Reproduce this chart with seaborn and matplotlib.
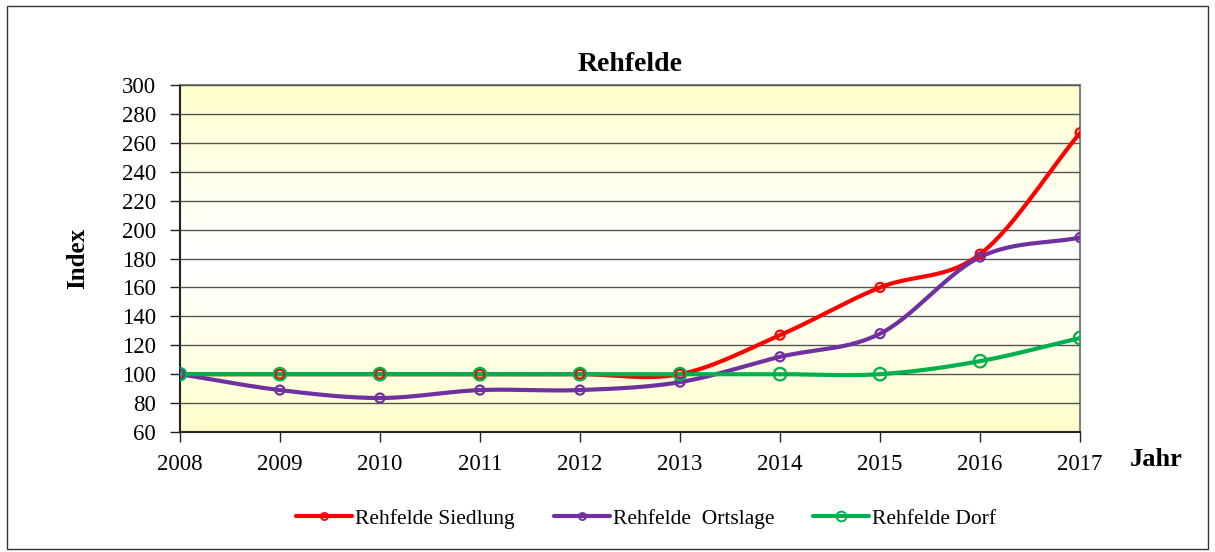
import numpy as np
import pandas as pd
import matplotlib
matplotlib.use("Agg")
import matplotlib.pyplot as plt
import seaborn as sns
from matplotlib.lines import Line2D
from matplotlib.patches import Rectangle

years = [2008, 2009, 2010, 2011, 2012, 2013, 2014, 2015, 2016, 2017]
siedlung = [100, 100, 100, 100, 100, 100, 127, 160, 183, 267]
ortslage = [100, 89, 83.5, 89, 89, 94.5, 112, 128, 181, 194.5]
dorf = [100, 100, 100, 100, 100, 100, 100, 100, 109, 125]
series_names = ["Rehfelde Siedlung", "Rehfelde  Ortslage", "Rehfelde Dorf"]
colors = ["#FF0000", "#7030A0", "#00B050"]
y_ticks = list(range(60, 301, 20))

sns.set_theme(style="white")
plt.rcParams['font.family'] = ['Liberation Serif', 'DejaVu Serif']
plt.rcParams['text.color'] = 'black'
plt.rcParams['axes.labelcolor'] = 'black'


def smooth(x, y, n=30):
    # Catmull-Rom style smoothing for display (like Excel "smoothed line")
    x = np.asarray(x, float); y = np.asarray(y, float)
    px = np.concatenate([[2 * x[0] - x[1]], x, [2 * x[-1] - x[-2]]])
    py = np.concatenate([[2 * y[0] - y[1]], y, [2 * y[-1] - y[-2]]])
    xs, ys = [], []
    for i in range(1, len(px) - 2):
        t = np.linspace(0, 1, n, endpoint=(i == len(px) - 3))
        p0, p1, p2, p3 = py[i - 1], py[i], py[i + 1], py[i + 2]
        q0, q1, q2, q3 = px[i - 1], px[i], px[i + 1], px[i + 2]
        f = lambda a0, a1, a2, a3: 0.5 * ((2 * a1) + (-a0 + a2) * t +
                                          (2 * a0 - 5 * a1 + 4 * a2 - a3) * t ** 2 +
                                          (-a0 + 3 * a1 - 3 * a2 + a3) * t ** 3)
        xs.append(f(q0, q1, q2, q3)); ys.append(f(p0, p1, p2, p3))
    return np.concatenate(xs), np.concatenate(ys)


fig = plt.figure(figsize=(12.15, 5.52), dpi=100)
fig.patch.set_facecolor("white")
fig.add_artist(Rectangle((0.006, 0.006), 0.988, 0.983, transform=fig.transFigure,
                         fill=False, edgecolor="#333333", linewidth=1.0))
ax = fig.add_axes([0.148, 0.2174, 0.741, 0.6286])

# gradient background: yellow at top and bottom, white in the middle
grad = np.abs(np.linspace(-1, 1, 256)) ** 1.2
c1 = np.array([1.0, 1.0, 0.80]); c2 = np.array([1.0, 1.0, 1.0])
img = c2[None, :] * (1 - grad[:, None]) + c1[None, :] * grad[:, None]
img = np.repeat(img[:, None, :], 2, axis=1)
ax.imshow(img, extent=[0, 1, 0, 1], transform=ax.transAxes, aspect="auto", zorder=0)

rows = []
for name, vals in zip(series_names, [siedlung, ortslage, dorf]):
    for yr, v in zip(years, vals):
        rows.append({"Jahr": yr, "Index": v, "Serie": name})
df = pd.DataFrame(rows)

for name, col, ms in zip(series_names, colors, [6.5, 6.5, 9]):
    sub = df[df["Serie"] == name]
    sx, sy = smooth(sub["Jahr"], sub["Index"])
    ax.plot(sx, sy, color=col, linewidth=3, zorder=3, solid_capstyle="round")
    sns.scatterplot(data=sub, x="Jahr", y="Index", ax=ax, s=ms ** 2, marker="o",
                    facecolor="none", edgecolor=col, linewidth=1.6, zorder=4, legend=False)

ax.set_xlim(2008, 2017)
ax.set_ylim(60, 300)
ax.set_yticks(y_ticks)
ax.set_xticks(years)
ax.set_xticklabels([str(y) for y in years])
ax.yaxis.grid(True, color="#555555", linewidth=1.0)
ax.xaxis.grid(False)
ax.set_axisbelow(False)
for ln in ax.get_ygridlines():
    ln.set_zorder(1)
for s in ax.spines.values():
    s.set_color("#808080"); s.set_linewidth(1.5)
ax.spines["left"].set_color("#222222")
ax.spines["bottom"].set_color("#222222")
ax.tick_params(axis="both", direction="out", length=7, width=1, color="#222222",
               labelsize=16.5, labelcolor="black", left=True, bottom=True)
ax.tick_params(axis="y", pad=10)
ax.tick_params(axis="x", pad=9)
ax.set_xlabel("")
ax.set_ylabel("Index", fontsize=18, fontweight="bold", labelpad=24)
ax.set_title("Rehfelde", fontsize=20, fontweight="bold", pad=10)
fig.text(0.930, 0.167, "Jahr", fontsize=19, fontweight="bold", ha="left", va="center")

handles = [Line2D([0], [0], color=c, linewidth=3, marker="o", markersize=ms,
                  markerfacecolor="none", markeredgecolor=c, markeredgewidth=1.4)
           for c, ms in zip(colors, [5, 5, 7])]
fig.legend(handles, series_names, loc="center", bbox_to_anchor=(0.532, 0.06),
           ncol=3, frameon=False, fontsize=15.5, handlelength=2.6, handletextpad=0.15,
           columnspacing=1.8)

fig.savefig("out.png", dpi=100)
